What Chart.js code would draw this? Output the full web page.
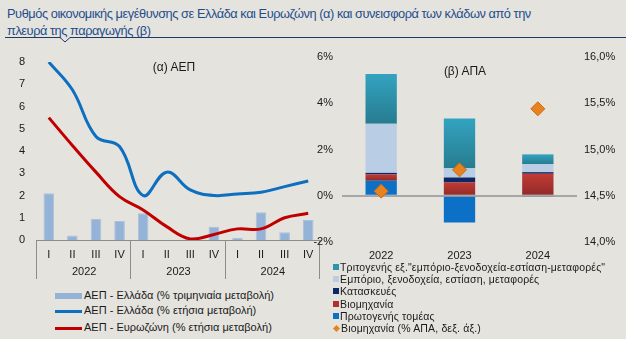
<!DOCTYPE html>
<html>
<head>
<meta charset="utf-8">
<script src="https://cdn.jsdelivr.net/npm/chart.js@4.4.1/dist/chart.umd.min.js"></script>
<style>
  body { margin: 0; width: 626px; height: 339px; background: #E5E3DE; position: relative; overflow: hidden;
         font-family: "Liberation Sans", Arial, sans-serif; color: #1a1a1a; }
  canvas { position: absolute; }
  .abs { position: absolute; white-space: nowrap; }
  #title { left: 7px; top: 5px; font-size: 12.8px; letter-spacing: -0.45px; line-height: 17px; color: #1F4E8C; }
  .sub { font-size: 12px; transform: translateX(-50%); }
  .lg1 { font-size: 11px; left: 55px; }
  .lg1 i { display: inline-block; width: 27px; vertical-align: middle; margin-right: 2px; }
  .lg2 { font-size: 10.5px; left: 333px; line-height: 12.2px; letter-spacing: 0.15px; }
  .lg2 i { display: inline-block; width: 6px; height: 6px; margin-right: 1px; vertical-align: 1px; }
</style>
</head>
<body>
<div id="title" class="abs">Ρυθμός οικονομικής μεγέθυνσης σε Ελλάδα και Ευρωζώνη (α) και συνεισφορά των κλάδων από την<br>πλευρά της παραγωγής (β)</div>
<svg class="abs" style="left:0;top:0" width="626" height="50">
  <polyline points="5,37.5 60,37.5 65,42 70,37.5 626,37.5" fill="none" stroke="#1F3864" stroke-width="1"/>
</svg>

<canvas id="gdp" width="322" height="245" style="left:0;top:40px"></canvas>
<canvas id="gva" width="326" height="228" style="left:300px;top:40px"></canvas>

<div class="abs sub" style="left:174px;top:60px">(α) ΑΕΠ</div>
<div class="abs sub" style="left:465px;top:64px">(β) ΑΠΑ</div>
<div id="legend1"></div>
<div id="legend2"></div>

<script>
// (α) GDP: quarters of 2022-2024
const quarters = ['I', 'II', 'III', 'IV', 'I', 'II', 'III', 'IV', 'I', 'II', 'III', 'IV'];
const years = ['2022', '2023', '2024'];
const grQoq = [2.1, 0.2, 0.95, 0.85, 1.2, 0.0, 0.1, 0.6, 0.1, 1.25, 0.35, 0.9];
const grYoy = [8.0, 6.75, 4.65, 4.2, 2.0, 3.05, 2.25, 2.0, 2.07, 2.15, 2.4, 2.65];
const ezYoy = [5.5, 4.25, 3.05, 1.95, 1.35, 0.6, 0.05, 0.25, 0.5, 0.5, 1.0, 1.2];
const gdpNames = ['ΑΕΠ - Ελλάδα (% τριμηνιαία μεταβολή)', 'ΑΕΠ - Ελλάδα (% ετήσια μεταβολή)', 'ΑΕΠ - Ευρωζώνη (% ετήσια μεταβολή)'];

// (β) GVA contributions by sector (pp) and industry share (% of GVA)
const gvaYears = ['2022', '2023', '2024'];
const primary = [0.65, -1.16, -0.05];
const industry = [0.27, 0.57, 0.95];
const construction = [0.07, 0.22, 0.07];
const trade = [2.12, 0.4, 0.35];
const tertiaryEx = [2.15, 2.15, 0.42];
const industryShare = [14.55, 14.78, 15.44];
const gvaNames = ['Τριτογενής εξ."εμπόριο-ξενοδοχεία-εστίαση-μεταφορές"', 'Εμπόριο, ξενοδοχεία, εστίαση, μεταφορές',
                  'Κατασκευές', 'Βιομηχανία', 'Πρωτογενής τομέας', 'Βιομηχανία (% ΑΠΑ, δεξ. άξ.)'];

Chart.defaults.font.family = '"Liberation Sans", Arial, sans-serif';
Chart.defaults.font.size = 11;
Chart.defaults.color = '#1a1a1a';
Chart.defaults.animation = false;

const fixWidth = w => s => { s.width = w; };
const fixHeight = h => s => { s.height = h; };

// year row + group separators under the quarter labels
const groupAxis = {
  id: 'groupAxis',
  afterDraw(chart) {
    const xs = chart.scales.x, c = chart.ctx, top = xs.top;
    const n = quarters.length / years.length;
    const bounds = [];
    c.save();
    c.strokeStyle = '#8C8C8C';
    c.lineWidth = 1;
    for (let g = 0; g <= years.length; g++) {
      let px;
      if (g === 0) px = xs.left;
      else if (g === years.length) px = xs.right;
      else px = (xs.getPixelForTick(g * n - 1) + xs.getPixelForTick(g * n)) / 2;
      bounds.push(px);
      c.beginPath();
      c.moveTo(Math.round(px) - 0.5, top);
      c.lineTo(Math.round(px) - 0.5, top + 39);
      c.stroke();
    }
    c.fillStyle = '#1a1a1a';
    c.font = '11px "Liberation Sans", Arial, sans-serif';
    c.textAlign = 'center';
    c.textBaseline = 'middle';
    years.forEach((y, i) => c.fillText(y, (bounds[i] + bounds[i + 1]) / 2, top + 32));
    c.restore();
  }
};

new Chart(document.getElementById('gdp'), {
  type: 'bar',
  data: {
    labels: quarters,
    datasets: [
      { label: gdpNames[0], data: grQoq, backgroundColor: '#95B3D7', borderColor: '#A9C1DE', borderWidth: 1,
        barPercentage: 0.45, categoryPercentage: 1, order: 2 },
      { type: 'line', label: gdpNames[1], data: grYoy, borderColor: '#0C6FC0', borderWidth: 3,
        pointRadius: 0, tension: 0.4, order: 1 },
      { type: 'line', label: gdpNames[2], data: ezYoy, borderColor: '#C00000', borderWidth: 3,
        pointRadius: 0, tension: 0.4, order: 1 }
    ]
  },
  options: {
    responsive: false,
    layout: { padding: { top: 22, right: 2, left: 0, bottom: 0 } },
    plugins: { legend: { display: false }, tooltip: { enabled: false } },
    scales: {
      x: {
        grid: { display: false, drawTicks: false },
        border: { color: '#8C8C8C' },
        ticks: { padding: 8, maxRotation: 0, autoSkip: false },
        afterFit: fixHeight(45)
      },
      y: {
        min: 0, max: 8,
        grid: { display: false, drawTicks: false },
        border: { display: false },
        ticks: { stepSize: 1, padding: 12 },
        afterFit: fixWidth(37)
      }
    }
  },
  plugins: [groupAxis]
});

// vertical per-bar gradient for stacked segments
const vGrad = (top, bottom) => c => {
  if (c.type !== 'data' || !c.chart.chartArea) return top;
  const chart = c.chart, ys = chart.scales.y, v = c.raw;
  let base = 0;
  for (let k = 0; k < c.datasetIndex; k++) {
    const d = chart.data.datasets[k];
    const w = d.data[c.dataIndex];
    if (d.type !== 'line' && Math.sign(w) === Math.sign(v)) base += w;
  }
  const y0 = ys.getPixelForValue(base + v), y1 = ys.getPixelForValue(base);
  const g = chart.ctx.createLinearGradient(0, Math.min(y0, y1), 0, Math.max(y0, y1) + 0.01);
  g.addColorStop(0, top);
  g.addColorStop(1, bottom);
  return g;
};

const barOpts = { barPercentage: 0.4, categoryPercentage: 1, yAxisID: 'y', order: 1 };

new Chart(document.getElementById('gva'), {
  type: 'bar',
  data: {
    labels: gvaYears,
    datasets: [
      { label: gvaNames[4], data: primary, backgroundColor: '#0B70C6', ...barOpts },
      { label: gvaNames[3], data: industry, backgroundColor: vGrad('#C23B35', '#8F2A28'), ...barOpts },
      { label: gvaNames[2], data: construction, backgroundColor: '#0E2766', ...barOpts },
      { label: gvaNames[1], data: trade, backgroundColor: '#B9CDE5', ...barOpts },
      { label: gvaNames[0], data: tertiaryEx, backgroundColor: vGrad('#33A3C1', '#277C8F'), ...barOpts },
      { type: 'line', label: gvaNames[5], data: industryShare, yAxisID: 'y2', showLine: false, order: 0,
        pointStyle: 'rectRot', pointRadius: 7, backgroundColor: '#E8821E', borderColor: '#C96A18', borderWidth: 1 }
    ]
  },
  options: {
    responsive: false,
    layout: { padding: { top: 17, right: 0, left: 0, bottom: 0 } },
    plugins: { legend: { display: false }, tooltip: { enabled: false } },
    scales: {
      x: {
        stacked: true,
        grid: { display: false, drawTicks: false },
        border: { display: false },
        ticks: { padding: 7 },
        afterFit: fixHeight(26)
      },
      y: {
        stacked: true, position: 'left', min: -2, max: 6,
        grid: { color: c => c.tick.value === 0 ? '#A6A6A6' : 'transparent', lineWidth: 2, drawTicks: false },
        border: { display: false },
        ticks: { stepSize: 2, padding: 9, callback: v => v + '%' },
        afterFit: fixWidth(42)
      },
      y2: {
        position: 'right', min: 14, max: 16,
        grid: { display: false, drawTicks: false },
        border: { display: false },
        ticks: { stepSize: 0.5, padding: 7, callback: v => v.toFixed(1).replace('.', ',') + '%' },
        afterFit: fixWidth(49)
      }
    }
  }
});

// legends
const lg1 = document.getElementById('legend1');
const sw1 = [['#95B3D7', 6], ['#0C6FC0', 3], ['#C00000', 3]];
const top1 = [289, 304, 321];
gdpNames.forEach((name, i) => {
  const d = document.createElement('div');
  d.className = 'abs lg1';
  d.style.top = top1[i] + 'px';
  d.innerHTML = '<i style="height:' + sw1[i][1] + 'px;background:' + sw1[i][0] + '"></i>' + name;
  lg1.appendChild(d);
});

const lg2 = document.getElementById('legend2');
const sw2 = ['#2E93AE', '#B9CDE5', '#0E2766', '#B0302D', '#0B70C6', '#E8821E'];
gvaNames.forEach((name, i) => {
  const d = document.createElement('div');
  d.className = 'abs lg2';
  d.style.top = (261 + i * 12.2) + 'px';
  const mark = i === 5
    ? '<i style="width:5px;height:5px;transform:rotate(45deg);background:' + sw2[i] + ';margin:0 2px 0 1px"></i>'
    : '<i style="background:' + sw2[i] + '"></i>';
  d.innerHTML = mark + name;
  lg2.appendChild(d);
});
</script>
</body>
</html>
